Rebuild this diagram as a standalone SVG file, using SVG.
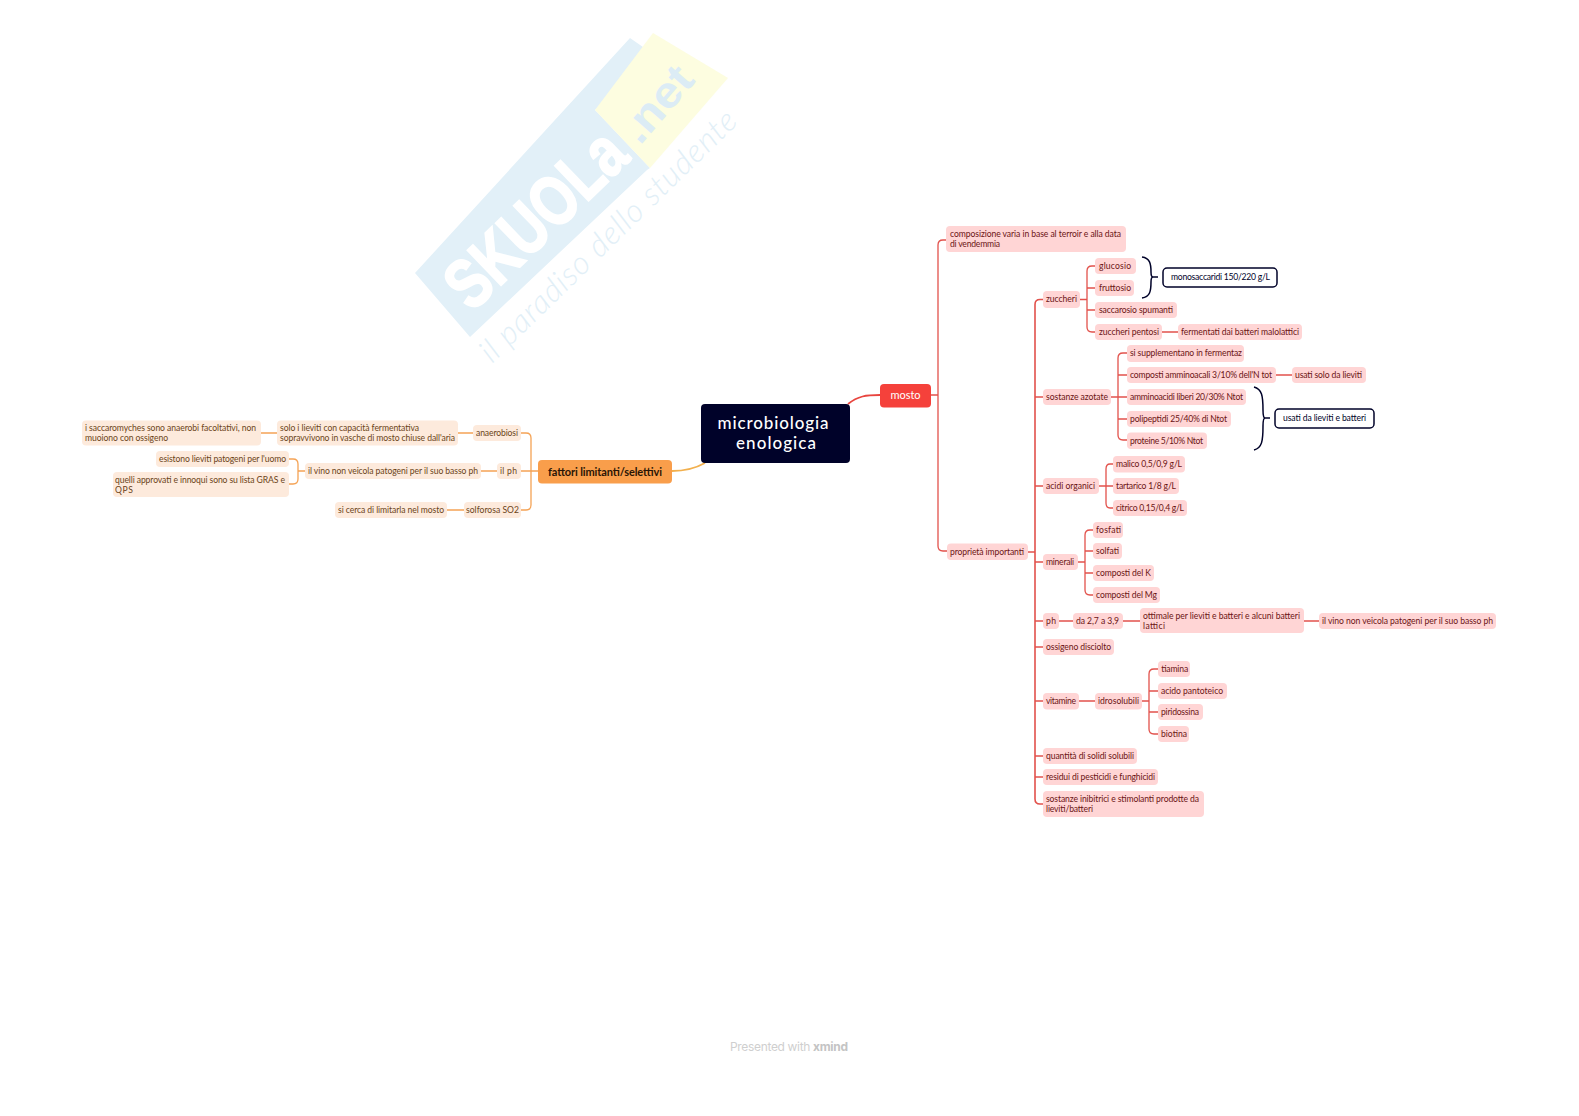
<svg xmlns="http://www.w3.org/2000/svg" width="1579" height="1116" viewBox="0 0 1579 1116">
<style>
text{font-family:"Lato","Liberation Sans",sans-serif;font-size:8.6px}
.r rect{fill:#ffd5d5}.r text{fill:#6b1414}
.o rect{fill:#fdeadc}.o text{fill:#6b4418}
.b rect{fill:#fff;stroke:#000229;stroke-width:1.5}.b text{fill:#000229}
.cr,.cr path{fill:none;stroke:#e2524c;stroke-width:1.3}
.co,.co path{fill:none;stroke:#f5a355;stroke-width:1.3}
.br{fill:none;stroke:#000229;stroke-width:1.5}
</style>
<g id="watermark">
<polygon points="415,273 630,38 653,54 595,110 650,168 647,170 470,337" fill="#e2f0f8"/>
<polygon points="653,33 728,78 650,168 595,110" fill="#fdfde0"/>
<text transform="translate(472,313) rotate(-44)" textLength="222" lengthAdjust="spacingAndGlyphs" style="font-family:'Liberation Sans',sans-serif;font-size:70px;font-weight:bold;fill:#fff;stroke:#fff;stroke-width:2">SKUOLa</text>
<text transform="translate(640,146) rotate(-49)" textLength="86" lengthAdjust="spacingAndGlyphs" style="font-family:'Liberation Sans',sans-serif;font-size:44px;font-weight:bold;fill:#dcecf5">.net</text>
<text transform="translate(492,364) rotate(-44.3)" textLength="345" style="font-family:'Lato',sans-serif;font-size:32px;font-weight:300;font-style:italic;fill:#e2eff7">il paradiso dello studente</text>
</g>
<g id="connectors">
<g class="cr">
<path d="M848,404C858,396 866,395 880,395" style="stroke:#e8453f;stroke-width:1.8"/>
<path d="M931,395H938M946,240H943Q938,240 938,245V546Q938,551 943,551H947"/>
<path d="M1028,552H1035M1043,299.500H1040Q1035,299.500 1035,304.500V799Q1035,804 1040,804H1043M1035,397H1043M1035,486H1043M1035,562H1043M1035,621H1043M1035,647H1043M1035,701H1043M1035,756H1043M1035,777H1043" style="stroke-width:1.600"/>
<path d="M1080,299.500H1087M1095,266H1092Q1087,266 1087,271V327Q1087,332 1092,332H1095M1087,288H1095M1087,310H1095M1162,332H1178"/>
<path d="M1111,397H1118M1127,353H1123Q1118,353 1118,358V435Q1118,440 1123,440H1127M1118,375H1127M1118,397H1127M1118,419H1127M1276,375H1292"/>
<path d="M1099,486H1106M1113,464H1110Q1106,464 1106,469V503Q1106,508 1110,508H1113M1106,486H1113"/>
<path d="M1078,562H1085M1093,530H1090Q1085,530 1085,535V590Q1085,595 1090,595H1093M1085,551H1093M1085,573H1093"/>
<path d="M1059,621H1073M1123,621H1140M1304,621H1319"/>
<path d="M1079,701H1095M1142,701H1149M1158,669H1154Q1149,669 1149,674V729Q1149,734 1154,734H1158M1149,691H1158M1149,712H1158"/>
</g>
<g class="co">
<path d="M672,471C686,471 696,468 705,463" style="stroke:#f2b04e;stroke-width:1.800"/>
<path d="M538,471H531M521,433H526Q531,433 531,438V505Q531,510 526,510H521M531,471H521"/>
<path d="M473,433H458M277,433H261M497,471H481M305,471H298M289,459H293Q298,459 298,464V479Q298,484 293,484H289M464,510H447"/>
</g>
</g>
<g id="braces">
<path class="br" d="M1142,257C1150,258 1151,264 1151,272Q1151,277 1153,277Q1151,277 1151,282C1151,291 1150,297 1142,298M1153,277H1158"/>
<path class="br" d="M1254,387C1262,389 1263,396 1263,410Q1263,418 1265,418Q1263,418 1263,426C1263,441 1262,448 1254,450M1265,418H1270"/>
</g>
<g id="center"><rect x="701" y="404" width="149" height="59" rx="4" fill="#000229"/><text x="775" y="429" text-anchor="middle" style="font-size:17px;fill:#fff;font-weight:500"><tspan x="773" textLength="111">microbiologia</tspan><tspan x="776" dy="20" textLength="80">enologica</tspan></text></g>
<g id="mosto"><rect x="880" y="384" width="51" height="23.500" rx="4" fill="#f5413b"/><text x="905.500" y="399" text-anchor="middle" style="font-size:11px;fill:#fff">mosto</text></g>
<g id="fattori"><rect x="538" y="460" width="134" height="23.500" rx="4" fill="#f99e4b"/><text x="548" y="476" textLength="114" style="font-size:11px;font-weight:700;fill:#2a1505">fattori limitanti/selettivi</text></g>

<g id="n1" class="r"><rect x="946" y="226" width="180" height="26" rx="4"/><text x="950" y="237" ><tspan x="950" textLength="171">composizione varia in base al terroir e alla data</tspan><tspan x="950" dy="10" textLength="50">di vendemmia</tspan></text></g>
<g id="n2" class="r"><rect x="947" y="543.500" width="81" height="16.500" rx="4"/><text x="950" y="555" textLength="74">proprietà importanti</text></g>
<g id="n3" class="r"><rect x="1043" y="291" width="37" height="17" rx="4"/><text x="1046" y="302" textLength="31">zuccheri</text></g>
<g id="n4" class="r"><rect x="1095" y="258" width="41" height="16" rx="4"/><text x="1099" y="269" textLength="32">glucosio</text></g>
<g id="n5" class="r"><rect x="1095" y="280" width="39" height="16" rx="4"/><text x="1099" y="291" textLength="32">fruttosio</text></g>
<g id="n6" class="r"><rect x="1095" y="302" width="82" height="16" rx="4"/><text x="1099" y="313" textLength="74">saccarosio spumanti</text></g>
<g id="n7" class="r"><rect x="1095" y="324" width="67" height="16" rx="4"/><text x="1099" y="335" textLength="60">zuccheri pentosi</text></g>
<g id="n8" class="r"><rect x="1178" y="324" width="124" height="16" rx="4"/><text x="1181" y="335" textLength="118">fermentati dai batteri malolattici</text></g>
<g id="n9" class="b"><rect x="1163" y="268" width="114" height="19" rx="4"/><text x="1171" y="280" textLength="99">monosaccaridi 150/220 g/L</text></g>
<g id="n10" class="r"><rect x="1043" y="389" width="68" height="16" rx="4"/><text x="1046" y="400" textLength="62">sostanze azotate</text></g>
<g id="n11" class="r"><rect x="1127" y="345" width="117" height="17" rx="4"/><text x="1130" y="356" textLength="112">si supplementano in fermentaz</text></g>
<g id="n12" class="r"><rect x="1127" y="367" width="149" height="16" rx="4"/><text x="1130" y="378" textLength="142">composti amminoacali 3/10% dell'N tot</text></g>
<g id="n13" class="r"><rect x="1292" y="367" width="74" height="16" rx="4"/><text x="1295" y="378" textLength="67">usati solo da lieviti</text></g>
<g id="n14" class="r"><rect x="1127" y="389" width="119" height="16" rx="4"/><text x="1130" y="400" textLength="113">amminoacidi liberi 20/30% Ntot</text></g>
<g id="n15" class="r"><rect x="1127" y="411" width="104" height="16" rx="4"/><text x="1130" y="422" textLength="97">polipeptidi 25/40% di Ntot</text></g>
<g id="n16" class="r"><rect x="1127" y="432.500" width="80" height="16.500" rx="4"/><text x="1130" y="444" textLength="73">proteine 5/10% Ntot</text></g>
<g id="n17" class="b"><rect x="1275" y="409" width="99" height="19" rx="4"/><text x="1283" y="421" textLength="83">usati da lieviti e batteri</text></g>
<g id="n18" class="r"><rect x="1043" y="478" width="56" height="16" rx="4"/><text x="1046" y="489" textLength="49">acidi organici</text></g>
<g id="n19" class="r"><rect x="1113" y="456" width="72" height="16.500" rx="4"/><text x="1116" y="467" textLength="66">malico 0,5/0,9 g/L</text></g>
<g id="n20" class="r"><rect x="1113" y="478" width="66" height="16" rx="4"/><text x="1116" y="489" textLength="60">tartarico 1/8 g/L</text></g>
<g id="n21" class="r"><rect x="1113" y="500" width="74" height="16" rx="4"/><text x="1116" y="511" textLength="68">citrico 0,15/0,4 g/L</text></g>
<g id="n22" class="r"><rect x="1043" y="554" width="35" height="16" rx="4"/><text x="1046" y="565" textLength="28">minerali</text></g>
<g id="n23" class="r"><rect x="1093" y="522" width="30" height="16" rx="4"/><text x="1096" y="533" textLength="25">fosfati</text></g>
<g id="n24" class="r"><rect x="1093" y="543" width="29" height="16" rx="4"/><text x="1096" y="554" textLength="23">solfati</text></g>
<g id="n25" class="r"><rect x="1093" y="565" width="61" height="16" rx="4"/><text x="1096" y="576" textLength="55">composti del K</text></g>
<g id="n26" class="r"><rect x="1093" y="587" width="67" height="16" rx="4"/><text x="1096" y="598" textLength="61">composti del Mg</text></g>
<g id="n27" class="r"><rect x="1043" y="613" width="16" height="16" rx="4"/><text x="1046" y="624" textLength="10">ph</text></g>
<g id="n28" class="r"><rect x="1073" y="613" width="50" height="16" rx="4"/><text x="1076" y="624" textLength="43">da 2,7 a 3,9</text></g>
<g id="n29" class="r"><rect x="1140" y="608" width="164" height="25" rx="4"/><text x="1143" y="619"><tspan x="1143" textLength="157">ottimale per lieviti e batteri e alcuni batteri</tspan><tspan x="1143" dy="10" textLength="22">lattici</tspan></text></g>
<g id="n30" class="r"><rect x="1319" y="613" width="177" height="16" rx="4"/><text x="1322" y="624" textLength="171">il vino non veicola patogeni per il suo basso ph</text></g>
<g id="n31" class="r"><rect x="1043" y="639" width="71" height="16" rx="4"/><text x="1046" y="650" textLength="65">ossigeno disciolto</text></g>
<g id="n32" class="r"><rect x="1043" y="693" width="36" height="16.500" rx="4"/><text x="1046" y="704" textLength="30">vitamine</text></g>
<g id="n33" class="r"><rect x="1095" y="693" width="47" height="16.500" rx="4"/><text x="1098" y="704" textLength="41">idrosolubili</text></g>
<g id="n34" class="r"><rect x="1158" y="661" width="32" height="16" rx="4"/><text x="1161" y="672" textLength="27">tiamina</text></g>
<g id="n35" class="r"><rect x="1158" y="683" width="69" height="16" rx="4"/><text x="1161" y="694" textLength="62">acido pantoteico</text></g>
<g id="n36" class="r"><rect x="1158" y="704" width="45" height="16" rx="4"/><text x="1161" y="715" textLength="38">piridossina</text></g>
<g id="n37" class="r"><rect x="1158" y="726" width="31" height="16" rx="4"/><text x="1161" y="737" textLength="26">biotina</text></g>
<g id="n38" class="r"><rect x="1043" y="748" width="94" height="16" rx="4"/><text x="1046" y="759" textLength="88">quantità di solidi solubili</text></g>
<g id="n39" class="r"><rect x="1043" y="769" width="115" height="16" rx="4"/><text x="1046" y="780" textLength="109">residui di pesticidi e funghicidi</text></g>
<g id="n40" class="r"><rect x="1043" y="791" width="161" height="26" rx="4"/><text x="1046" y="802"><tspan x="1046" textLength="153">sostanze inibitrici e stimolanti prodotte da</tspan><tspan x="1046" dy="10" textLength="47">lieviti/batteri</tspan></text></g>

<g id="l1" class="o"><rect x="473" y="425" width="48" height="16" rx="4"/><text x="476" y="436" textLength="42">anaerobiosi</text></g>
<g id="l2" class="o"><rect x="277" y="420.500" width="181" height="25" rx="4"/><text x="280" y="431"><tspan x="280" textLength="139">solo i lieviti con capacità fermentativa</tspan><tspan x="280" dy="10" textLength="175">sopravvivono in vasche di mosto chiuse dall'aria</tspan></text></g>
<g id="l3" class="o"><rect x="82" y="420.500" width="179" height="25" rx="4"/><text x="85" y="431"><tspan x="85" textLength="171">i saccaromyches sono anaerobi facoltativi, non</tspan><tspan x="85" dy="10" textLength="83">muoiono con ossigeno</tspan></text></g>
<g id="l4" class="o"><rect x="497" y="463" width="24" height="16" rx="4"/><text x="500" y="474" textLength="17">il ph</text></g>
<g id="l5" class="o"><rect x="305" y="463" width="176" height="16" rx="4"/><text x="308" y="474" textLength="170">il vino non veicola patogeni per il suo basso ph</text></g>
<g id="l6" class="o"><rect x="156" y="451" width="133" height="16" rx="4"/><text x="159" y="462" textLength="127">esistono lieviti patogeni per l'uomo</text></g>
<g id="l7" class="o"><rect x="113" y="472" width="176" height="25" rx="4"/><text x="115" y="483"><tspan x="115" textLength="170">quelli approvati e innoqui sono su lista GRAS e</tspan><tspan x="115" dy="10" textLength="18">QPS</tspan></text></g>
<g id="l8" class="o"><rect x="464" y="502" width="57" height="16" rx="4"/><text x="466" y="513" textLength="53">solforosa SO2</text></g>
<g id="l9" class="o"><rect x="335" y="502" width="112" height="16" rx="4"/><text x="338" y="513" textLength="106">si cerca di limitarla nel mosto</text></g>
<text id="footer" x="730" y="1051" style="font-size:12px;fill:#cfcfcf;font-family:'Inter',sans-serif" textLength="118">Presented with <tspan style="font-weight:700;fill:#c4c4c4">xmind</tspan></text>
</svg>
